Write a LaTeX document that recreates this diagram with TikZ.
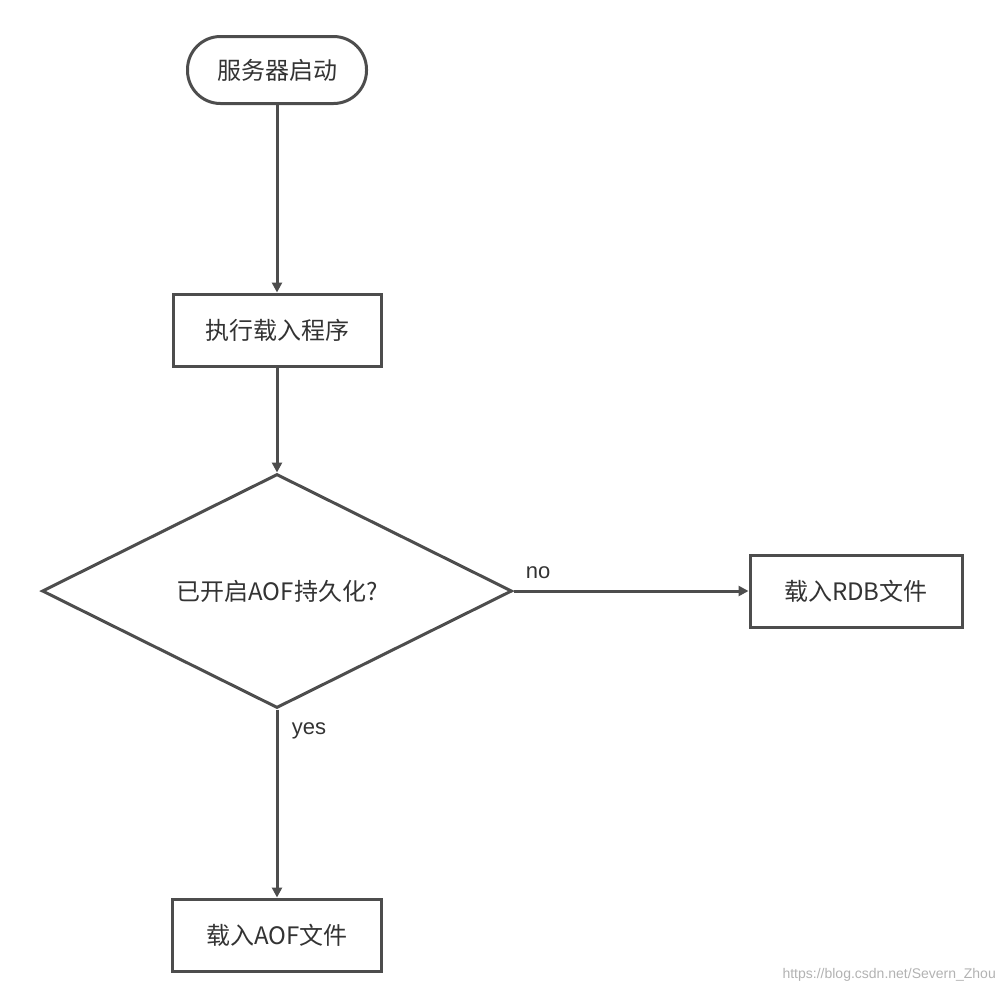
\documentclass[tikz,border=0pt]{standalone}
\usepackage{fontspec}
\setmainfont{Noto Sans CJK SC}
\newfontfamily\latinf{Liberation Sans}
\usetikzlibrary{shapes.geometric,arrows.meta}
\definecolor{ln}{HTML}{4D4D4D}
\definecolor{tx}{HTML}{333333}
\tikzset{
  base/.style={draw=ln,line width=3pt,text=tx,font=\fontsize{24}{28}\selectfont,inner sep=0pt},
  boxn/.style={base,rectangle,minimum width=208pt,minimum height=72pt},
  conn/.style={draw=ln,line width=3pt,-{Triangle[length=10pt,width=10pt]}},
  lab/.style={text=tx,font=\latinf\fontsize{22}{26}\selectfont,inner sep=0pt}
}
\begin{document}
\begin{tikzpicture}[x=1pt,y=-1pt]
\useasboundingbox (0,0) rectangle (1002,994);
\node[base,rounded corners=33pt,minimum width=179pt,minimum height=67pt] (start) at (277,70) {服务器启动};
\node[boxn] (load) at (277,330) {执行载入程序};
\node[base,diamond,minimum width=470pt,minimum height=234pt,aspect=2] (dec) at (277,591) {已开启AOF持久化?};
\node[boxn,minimum width=212pt] (rdb) at (856,591) {载入RDB文件};
\node[boxn,minimum width=209pt] (aof) at (277,935) {载入AOF文件};
\draw[conn] (start.south) -- (load.north);
\draw[conn] (load.north |- load.south) -- (dec.north);
\draw[conn] (dec.east) -- (rdb.west);
\draw[conn] (dec.south) -- (aof.north);
\node[lab] (no) at (538,573) {no};
\node[lab] (yes) at (309,731) {yes};
\node[text=gray!60,font=\latinf\fontsize{14}{16}\selectfont,inner sep=0pt,anchor=east] (wm) at (996,975) {https://blog.csdn.net/Severn\_Zhou};
\end{tikzpicture}
\end{document}
